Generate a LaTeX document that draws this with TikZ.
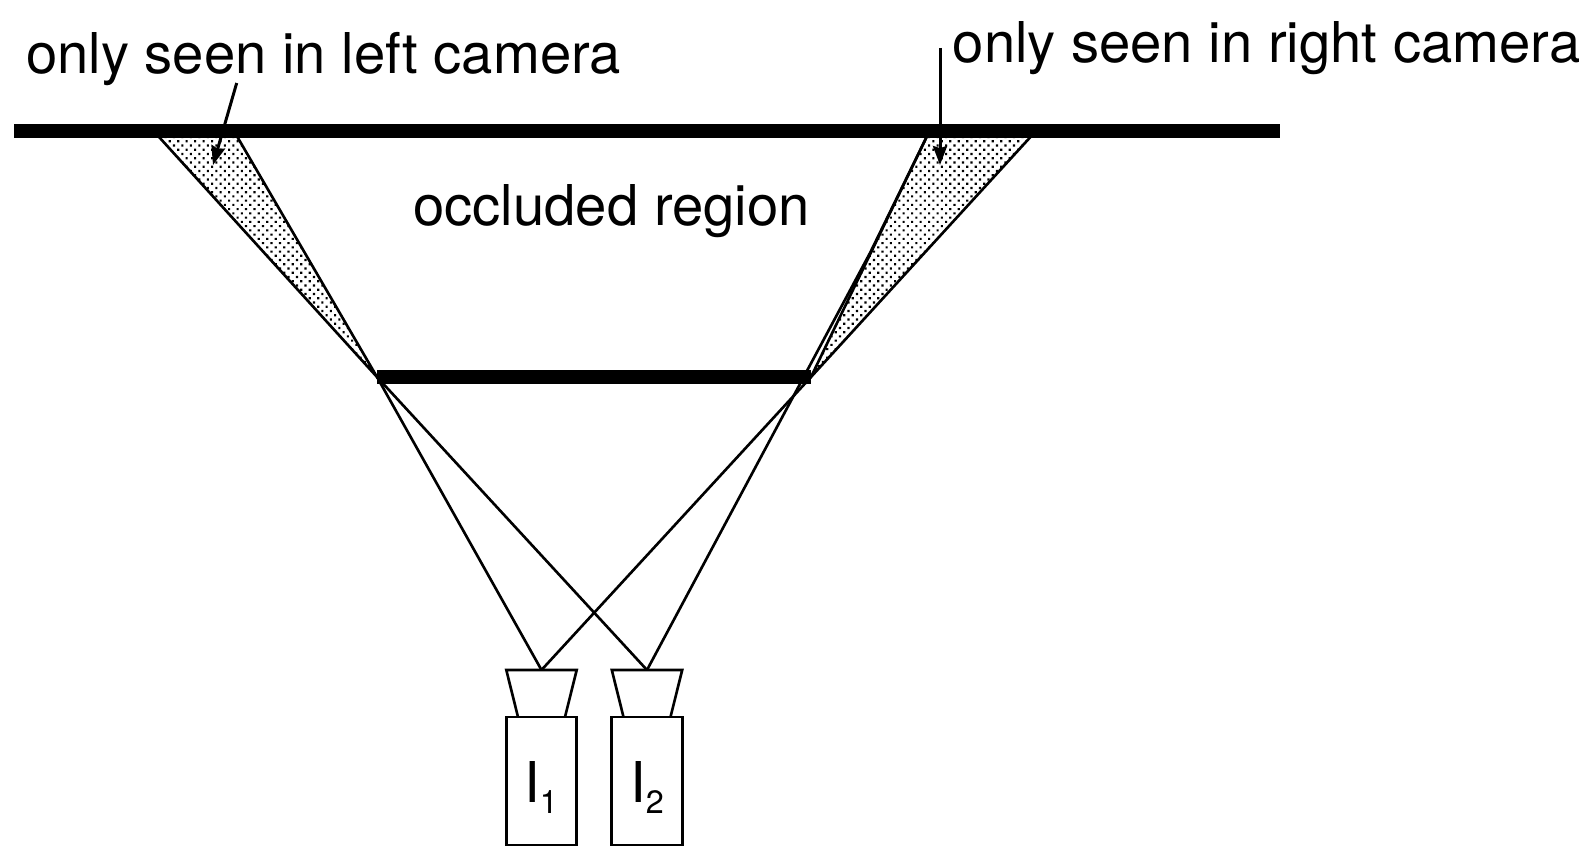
\documentclass[tikz,border=0pt]{standalone}
\usepackage{fontspec}
\setmainfont{TeX Gyre Heros}
\usetikzlibrary{patterns.meta,arrows.meta}

\begin{document}
\begin{tikzpicture}[line width=0.75pt,
    bar/.style = {line width=4pt},
    seen/.style = {draw, pattern={Dots[distance=0.06cm, angle=45, radius=0.43pt]}},
    txt/.style = {anchor=base west, inner sep=0pt, font=\fontsize{16}{19}\selectfont},
    pointer/.style = {line width=0.85pt, -{Stealth[length=5.4pt, width=4pt, inset=0.6pt]}},
    body/.style = {draw, rectangle, inner sep=0pt, outer sep=0pt, minimum width=0.705cm, minimum height=1.28cm}]
    \useasboundingbox (0,0) rectangle (15.79,8.54);

    % Points of the scene
    \coordinate (back1) at (0.14,7.23);
    \coordinate (back2) at (12.80,7.23);
    \coordinate (front1) at (3.77,4.77);
    \coordinate (front2) at (8.11,4.77);
    \coordinate (left1) at (1.545,7.22);
    \coordinate (left2) at (2.345,7.22);
    \coordinate (right1) at (9.29,7.22);
    \coordinate (right2) at (10.35,7.22);
    \coordinate (ray2) at (8.70,6.01);

    % Cameras
    \node[body] (cam1) at (5.415,0.73) {};
    \node[body] (cam2) at (6.47,0.73) {};
    \coordinate (eye1) at (5.415,1.84);
    \coordinate (eye2) at (6.47,1.84);
    \draw ([xshift=-0.235cm]cam1.north) -- ([xshift=-0.352cm]eye1) -- ([xshift=0.352cm]eye1) -- ([xshift=0.235cm]cam1.north);
    \draw ([xshift=-0.235cm]cam2.north) -- ([xshift=-0.352cm]eye2) -- ([xshift=0.352cm]eye2) -- ([xshift=0.235cm]cam2.north);
    \node[txt] (id1) at (5.23,0.52) {I\raisebox{-3.4pt}{\fontsize{9.2}{10}\selectfont 1}};
    \node[txt] (id2) at (6.29,0.52) {I\raisebox{-3.4pt}{\fontsize{9.2}{10}\selectfont 2}};

    % Shaded regions
    \draw[seen] (left1) -- (left2) -- (front1) -- cycle;
    \draw[seen] (right1) -- (right2) -- (front2) -- cycle;

    % Rays
    \draw (eye1) -- (front1);
    \draw (eye2) -- (front1);
    \draw (eye1) -- (front2);
    \draw (eye2) -- (ray2) -- (right1);

    % Bars
    \draw[bar] (back1) -- (back2);
    \draw[bar] (front1) -- (front2);

    % Labels
    \node[txt] (onlyleft) at (0.25,7.805) {only seen in left camera};
    \node[txt] (onlyright) at (9.515,7.915) {only seen in right camera};
    \node[txt] (occluded) at (4.12,6.28) {occluded region};

    % Arrows
    \coordinate (from1) at (2.367,7.71);
    \coordinate (to1) at (2.13,6.89);
    \coordinate (from2) at (9.40,8.06);
    \coordinate (to2) at (9.40,6.89);
    \draw[pointer] (from1) -- (to1);
    \draw[pointer] (from2) -- (to2);

\end{tikzpicture}
\end{document}
